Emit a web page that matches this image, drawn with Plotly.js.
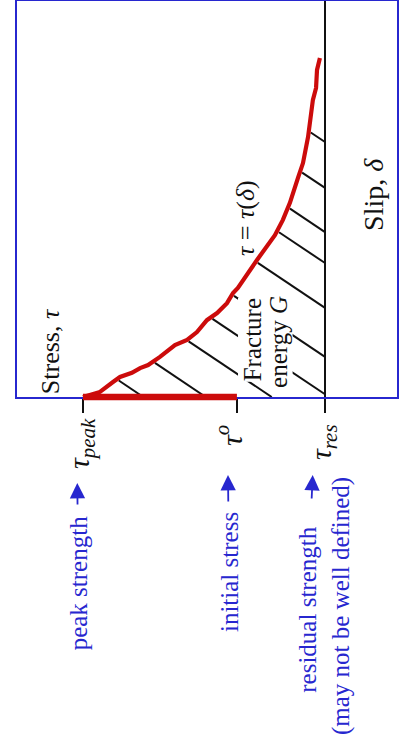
<!DOCTYPE html>
<html>
<head>
<meta charset="utf-8">
<script src="https://cdn.plot.ly/plotly-3.0.1.min.js"></script>
<style>
  html, body { margin: 0; padding: 0; background: #ffffff; }
  #chart { width: 403px; height: 744px; }
</style>
</head>
<body>
<div id="chart"></div>
<script>
// Slip-weakening friction law, drawn on its side: stress runs across (peak on the left),
// slip runs up the page. The hatched area under the curve is the fracture energy G.

// Weakening curve tau(delta): slip and stress (normalised, tau_peak = 1, tau_res = 0)
const slip   = [0.000, 0.015, 0.044, 0.059, 0.071, 0.085, 0.094, 0.118, 0.153, 0.168,
                0.191, 0.226, 0.247, 0.276, 0.306, 0.321, 0.403, 0.476, 0.521, 0.571,
                0.644, 0.688, 0.765, 0.829, 0.874, 0.909, 0.962, 0.997];
const stress = [1.000, 0.930, 0.876, 0.847, 0.798, 0.764, 0.731, 0.682, 0.620, 0.570,
                0.529, 0.488, 0.446, 0.405, 0.380, 0.360, 0.281, 0.207, 0.174, 0.145,
                0.112, 0.091, 0.070, 0.058, 0.050, 0.037, 0.033, 0.021];

// Stress levels: peak strength, initial stress, residual strength
const stressLevels = [1.000, 0.364, 0.000];
const levelLabels  = ['<i>τ</i><sub><i>peak</i></sub>', '<i>τ</i><sup><i>o</i></sup>', '<i>τ</i><sub><i>res</i></sub>'];
const levelNotes   = ['peak strength', 'initial stress', 'residual strength'];
const residualCaveat = '(may not be well defined)';

// Hatching of the fracture-energy area: slip intercepts of the parallel strokes and their slope
const hatchIntercepts = [-0.358, -0.235, -0.105, 0.008, 0.118, 0.262, 0.394, 0.485, 0.615, 0.750];
const hatchSlope = 0.477;

const serif = 'Liberation Serif, Times New Roman, serif';
const ink   = '#111111';
const blue  = '#2727cf';
const red   = '#cc0b0b';

const [tauPeak, tau0, tauRes] = stressLevels;

// Where a hatch stroke (slip = c + k*stress) meets the weakening curve
function meetCurve(c) {
  for (let i = 0; i < stress.length - 1; i++) {
    const g0 = slip[i]     - (c + hatchSlope * stress[i]);
    const g1 = slip[i + 1] - (c + hatchSlope * stress[i + 1]);
    if (g0 <= 0 && g1 > 0) {
      const t = g0 / (g0 - g1);
      return stress[i] + t * (stress[i + 1] - stress[i]);
    }
  }
  return null;
}

const hx = [], hy = [];
hatchIntercepts.forEach(c => {
  const s0 = meetCurve(c);
  if (s0 === null) return;
  const sStart = s0 - 0.008;
  let sEnd, dEnd;
  if (c < 0) { sEnd = -c / hatchSlope; dEnd = 0; }
  else       { sEnd = tauRes;          dEnd = c; }
  hx.push(sStart, sEnd, null);
  hy.push(c + hatchSlope * sStart, dEnd, null);
});

const traces = [
  { x: hx, y: hy, mode: 'lines', line: { color: ink, width: 2 }, hoverinfo: 'skip' },
  { x: [tauRes, tauRes], y: [0, 1.3], mode: 'lines', line: { color: ink, width: 2 }, hoverinfo: 'skip' },
  { x: stress, y: slip, mode: 'lines', line: { color: red, width: 4.2 }, hoverinfo: 'skip' }
];

const annotations = [
  { text: 'Stress, <i>τ</i>', x: 1.136, y: 0.135, xref: 'x', yref: 'y',
    font: { family: serif, size: 26, color: ink } },
  { text: '<i>τ</i> = <i>τ</i>(<i>δ</i>)', x: 0.331, y: 0.526, xref: 'x', yref: 'y',
    font: { family: serif, size: 26, color: ink } },
  { text: 'Fracture', x: 0.300, y: 0.168, xref: 'x', yref: 'y', bgcolor: '#ffffff', borderpad: 0,
    font: { family: serif, size: 25, color: ink } },
  { text: 'energy <i>G</i>', x: 0.190, y: 0.162, xref: 'x', yref: 'y', bgcolor: '#ffffff', borderpad: 0,
    font: { family: serif, size: 25, color: ink } },
  { text: 'Slip, <i>δ</i>', x: -0.198, y: 0.597, xref: 'x', yref: 'y',
    font: { family: serif, size: 28, color: ink } }
];

// Stress-level symbols under the frame
const symbolShift = [0.008, 0.033, 0.008];
const symbolY = [-0.1187, -0.096, -0.1136];
stressLevels.forEach((s, i) => {
  annotations.push({ text: levelLabels[i], x: s + symbolShift[i], y: symbolY[i], xref: 'x', yref: 'paper',
    font: { family: serif, size: 30, color: ink } });
});

// Blue notes, each with an arrow pointing up at its stress level
const arrowShift = [0.0235, 0.0368, 0.0508];
const arrowTipY = [-0.2172, -0.197, -0.197];
const noteDx = [1, 1, -6];        // note centre relative to arrow tip, px
const noteDy = [100, 97, 135];
const tailGap = [10, 9, 27];
stressLevels.forEach((s, i) => {
  annotations.push({ text: levelNotes[i], x: s + arrowShift[i], y: arrowTipY[i], xref: 'x', yref: 'paper',
    showarrow: true, ax: noteDx[i], ay: noteDy[i], startstandoff: tailGap[i],
    arrowhead: 2, arrowsize: 1.7, arrowwidth: 1.8, arrowcolor: blue,
    font: { family: serif, size: 25, color: blue } });
});
annotations.push({ text: residualCaveat, x: tauRes + 0.004 - 17 / 242, y: -0.5278, xref: 'x', yref: 'paper',
  font: { family: serif, size: 25, color: blue } });

annotations.forEach(a => {
  a.textangle = -90;
  if (a.showarrow === undefined) a.showarrow = false;
  a.xanchor = 'center';
  a.yanchor = 'middle';
});

const layout = {
  width: 403, height: 744,
  margin: { l: 17, r: 6, t: 1, b: 347 },
  paper_bgcolor: '#ffffff', plot_bgcolor: '#ffffff',
  showlegend: false,
  xaxis: {
    range: [1.2727, -0.2975], autorange: false,
    showgrid: false, zeroline: false,
    showline: true, mirror: true, linecolor: blue, linewidth: 2,
    tickvals: stressLevels, showticklabels: false,
    ticks: 'outside', ticklen: 14, tickwidth: 2, tickcolor: ink
  },
  yaxis: {
    range: [0, 1.1647], autorange: false,
    showgrid: false, zeroline: false,
    showline: true, mirror: true, linecolor: blue, linewidth: 2,
    showticklabels: false, ticks: ''
  },
  shapes: [
    // thick red stress drop from peak to initial stress at zero slip
    { type: 'line', xref: 'x', yref: 'paper', x0: tauPeak, x1: tau0, y0: 0, y1: 0,
      line: { color: red, width: 6.5 }, layer: 'above' }
  ],
  annotations: annotations
};

Plotly.newPlot('chart', traces, layout, { staticPlot: true, displayModeBar: false });
</script>
</body>
</html>
